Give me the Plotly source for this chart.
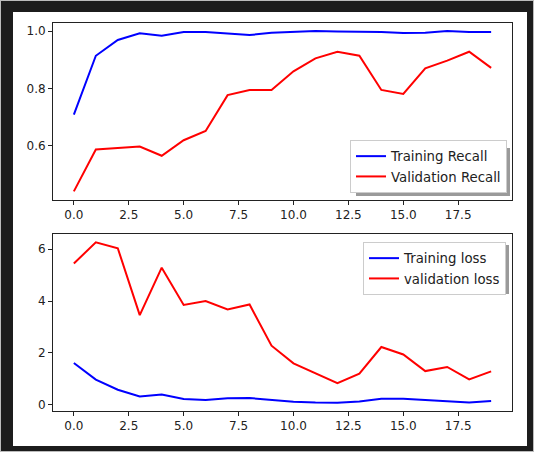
import plotly.graph_objects as go

epochs = list(range(20))
train_recall = [0.709, 0.914, 0.969, 0.992, 0.984, 0.997, 0.997, 0.992, 0.986, 0.994,
                0.998, 1.000, 0.998, 0.997, 0.997, 0.993, 0.994, 1.000, 0.997, 0.997]
val_recall = [0.442, 0.588, 0.593, 0.598, 0.566, 0.620, 0.652, 0.777, 0.795, 0.795,
              0.860, 0.905, 0.928, 0.914, 0.795, 0.781, 0.870, 0.897, 0.928, 0.872]
train_loss = [1.61, 0.97, 0.58, 0.32, 0.40, 0.22, 0.18, 0.25, 0.26, 0.18,
              0.12, 0.09, 0.08, 0.13, 0.23, 0.23, 0.19, 0.13, 0.09, 0.15]
val_loss = [5.45, 6.27, 6.04, 3.46, 5.29, 3.85, 4.00, 3.68, 3.87, 2.28,
            1.60, 1.20, 0.83, 1.20, 2.23, 1.94, 1.30, 1.46, 0.98, 1.29]

x_tickvals = [0, 2.5, 5, 7.5, 10, 12.5, 15, 17.5]
x_ticktext = ["0.0", "2.5", "5.0", "7.5", "10.0", "12.5", "15.0", "17.5"]
recall_tickvals = [0.6, 0.8, 1.0]
recall_ticktext = ["0.6", "0.8", "1.0"]
loss_tickvals = [0, 2, 4, 6]
loss_ticktext = ["0", "2", "4", "6"]

W, H = 534, 452
BLUE = "#0000ff"
RED = "#ff0000"
FONT = "DejaVu Sans"

fig = go.Figure()
fig.add_trace(go.Scatter(x=epochs, y=train_recall, mode="lines", name="Training Recall",
                         line=dict(color=BLUE, width=2), xaxis="x", yaxis="y", legend="legend"))
fig.add_trace(go.Scatter(x=epochs, y=val_recall, mode="lines", name="Validation Recall",
                         line=dict(color=RED, width=2), xaxis="x", yaxis="y", legend="legend"))
fig.add_trace(go.Scatter(x=epochs, y=train_loss, mode="lines", name="Training loss",
                         line=dict(color=BLUE, width=2), xaxis="x2", yaxis="y2", legend="legend2"))
fig.add_trace(go.Scatter(x=epochs, y=val_loss, mode="lines", name="validation loss",
                         line=dict(color=RED, width=2), xaxis="x2", yaxis="y2", legend="legend2"))

def px(v):
    return v / W

def py(v):
    return 1 - v / H

axis_common = dict(showline=True, mirror=True, linecolor="#222222", linewidth=1,
                   ticks="outside", ticklen=4, tickwidth=1, tickcolor="#222222",
                   showgrid=False, zeroline=False, automargin=False,
                   tickfont=dict(family=FONT, size=12, color="#222222"))

xdom = [px(53), px(512)]
xr = [-0.95, 19.95]

fig.update_layout(
    width=W, height=H,
    margin=dict(l=0, r=0, t=0, b=0),
    paper_bgcolor="#1c1c1c",
    plot_bgcolor="rgba(0,0,0,0)",
    xaxis=dict(domain=xdom, range=xr, anchor="y", tickmode="array",
               tickvals=x_tickvals, ticktext=x_ticktext, **axis_common),
    yaxis=dict(domain=[py(200), py(23)], range=[0.412, 1.028], anchor="x", tickmode="array",
               tickvals=recall_tickvals, ticktext=recall_ticktext, **axis_common),
    xaxis2=dict(domain=xdom, range=xr, anchor="y2", tickmode="array",
                tickvals=x_tickvals, ticktext=x_ticktext, **axis_common),
    yaxis2=dict(domain=[py(411), py(234)], range=[-0.24, 6.59], anchor="x2", tickmode="array",
                tickvals=loss_tickvals, ticktext=loss_ticktext, **axis_common),
    legend=dict(x=px(507), y=py(193), xanchor="right", yanchor="bottom",
                bgcolor="white", bordercolor="#cccccc", borderwidth=1,
                font=dict(family=FONT, size=13.3, color="#222222"), tracegroupgap=0),
    legend2=dict(x=px(506), y=py(242), xanchor="right", yanchor="top",
                 bgcolor="white", bordercolor="#cccccc", borderwidth=1,
                 font=dict(family=FONT, size=13.3, color="#222222"), tracegroupgap=0),
    showlegend=True,
    shapes=[
        dict(type="rect", xref="paper", yref="paper", x0=0, x1=1, y0=0, y1=1,
             line=dict(color="#bbbbbb", width=2), fillcolor="rgba(0,0,0,0)", layer="below"),
        dict(type="rect", xref="paper", yref="paper", x0=px(13), x1=px(527), y0=py(446), y1=py(12),
             line=dict(width=0), fillcolor="white", layer="below"),
        dict(type="rect", xref="paper", yref="paper", x0=px(356), x1=px(510), y0=py(196), y1=py(148),
             line=dict(width=0), fillcolor="#9a9a9a", layer="below"),
        dict(type="rect", xref="paper", yref="paper", x0=px(370), x1=px(509), y0=py(294), y1=py(245),
             line=dict(width=0), fillcolor="#9a9a9a", layer="below"),
    ],
)

fig.write_html("out.html", config={"displayModeBar": False},
               post_script="document.body.style.margin='0px';document.body.style.overflow='hidden';")
